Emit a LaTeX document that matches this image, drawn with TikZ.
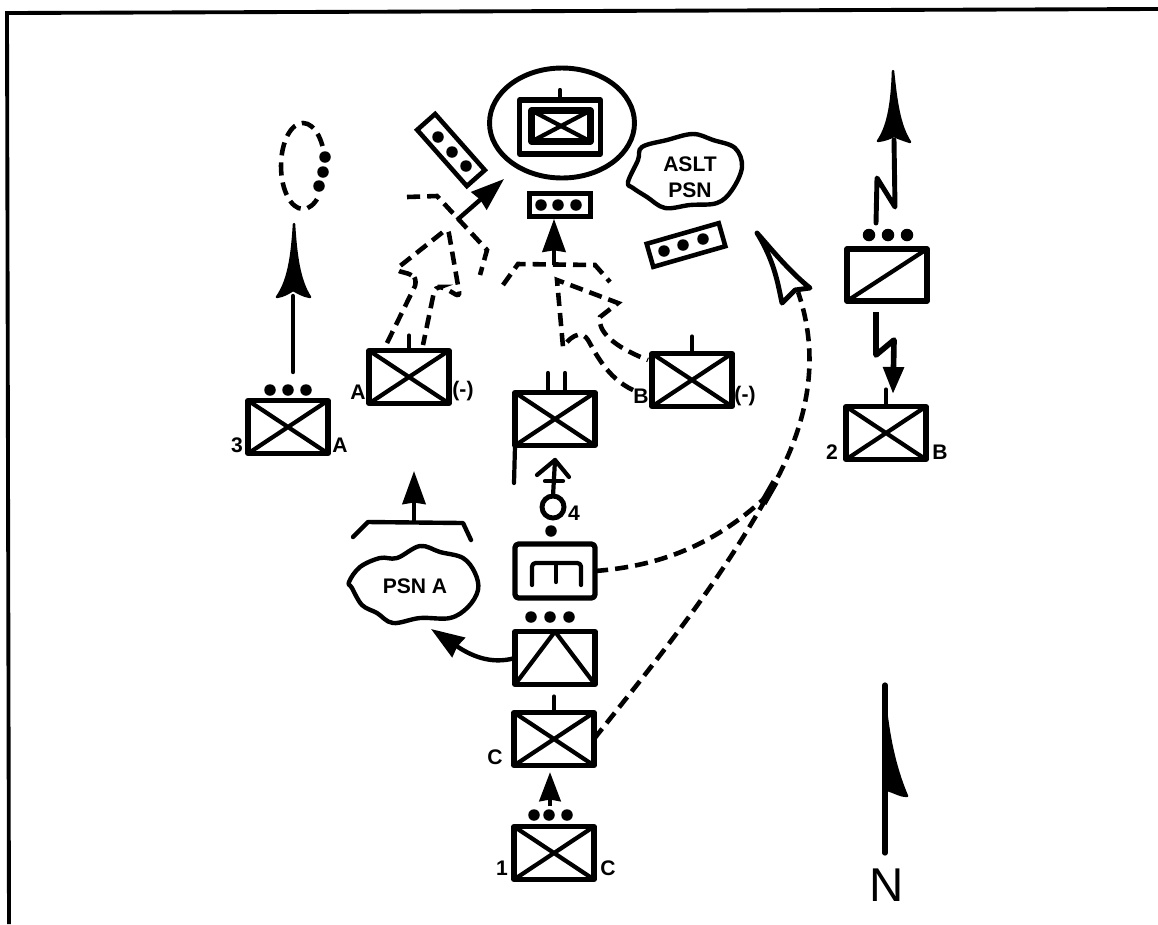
\documentclass[tikz,border=0pt]{standalone}
\usepackage{fontspec}
\setmainfont{Liberation Sans}
\usetikzlibrary{positioning,shapes.geometric,arrows.meta,calc}
\tikzstyle{unit} = [rectangle, draw=black, line width=3pt, line join=round, minimum width=1.6cm, minimum height=1.06cm, inner sep=0pt, outer sep=0pt]
\tikzstyle{crossed} = [unit, path picture={\draw[line width=2.4pt] (path picture bounding box.north west) -- (path picture bounding box.south east) (path picture bounding box.north east) -- (path picture bounding box.south west);}]
\tikzstyle{slashed} = [unit, path picture={\draw[line width=2.4pt] (path picture bounding box.south west) -- (path picture bounding box.north east);}]
\tikzstyle{peaked} = [unit, path picture={\draw[line width=2.4pt] (path picture bounding box.south west) -- (path picture bounding box.north) -- (path picture bounding box.south east);}]
\tikzstyle{trainbox} = [rectangle, draw=black, line width=2.6pt, minimum width=1.5cm, minimum height=0.48cm, inner sep=0pt]
\tikzstyle{pip} = [circle, fill=black, minimum size=0.23cm, inner sep=0pt]
\tikzstyle{tag} = [font=\bfseries\fontsize{12}{14}\selectfont, inner sep=0pt, align=center]
\tikzstyle{solidline} = [line width=2.5pt, line join=round, line cap=round]
\tikzstyle{thinline} = [line width=2.4pt, line join=round, line cap=round]
\tikzstyle{dashline} = [line width=2.6pt, dash pattern=on 7.5pt off 4pt]
\tikzstyle{arrow} = [line width=2.5pt, -{Stealth[length=0.66cm, width=0.46cm, inset=0.03cm]}]
\tikzstyle{head} = [fill=black, draw=black, line width=1.4pt, line join=round]
\begin{document}
\begin{tikzpicture}[x=0.02cm, y=-0.02cm]
    \useasboundingbox (0,0) rectangle (1158,924);
    % frame
    \coordinate (frame-sw) at (9,924);
    \coordinate (frame-nw) at (7,13);
    \coordinate (frame-ne) at (1158,9);
    \draw[line width=2.2pt] (frame-sw) -- (frame-nw) -- (frame-ne);

    % command post
    \node (cp-ring) [ellipse, draw=black, line width=2.8pt, minimum width=2.9cm, minimum height=2.2cm, inner sep=0pt, outer sep=0pt] at (562,123) {};
    \node (cp-outer) [unit, minimum width=1.62cm, minimum height=1.08cm] at (560,127) {};
    \node (cp-inner) [crossed, line width=3.6pt, minimum width=1.18cm, minimum height=0.62cm] at (561,126) {};
    \coordinate[above=0.2cm of cp-outer.north] (cp-mast);
    \draw[thinline] (cp-outer.north) -- (cp-mast);
    \node (cp-train) [trainbox, minimum width=1.22cm, minimum height=0.46cm] at (560,205) {};
    \node (cp-pip-1) [pip] at (541,205) {};
    \node (cp-pip-2) [pip] at (558,205) {};
    \node (cp-pip-3) [pip] at (576,205) {};

    % tilted boxes
    \node (left-train) [trainbox, rotate=-48.5] at (451,150) {};
    \node (left-pip-1) [pip] at (438,137) {};
    \node (left-pip-2) [pip] at (452,152) {};
    \node (left-pip-3) [pip] at (466,166) {};
    \node (right-train) [trainbox, rotate=16] at (686,245) {};
    \node (right-pip-1) [pip] at (664,251) {};
    \node (right-pip-2) [pip] at (683,245) {};
    \node (right-pip-3) [pip] at (703,239) {};

    % assault position
    \draw[solidline] plot[smooth cycle, tension=0.6] coordinates {(628,182) (638,160) (642,147) (667,140) (693,134) (713,140) (735,148) (742,167) (732,190) (717,203) (690,205) (665,208) (647,197) (633,188)};
    \node (aslt-psn) [tag] at (690,177) {ASLT\\[1pt]PSN};

    % company A
    \node (co-a) [crossed] at (409,377) {};
    \coordinate[above=0.3cm of co-a.north] (co-a-mast);
    \draw[thinline] (co-a.north) -- (co-a-mast);
    \node (co-a-name) [tag] at (358,392) {A};
    \node (co-a-minus) [tag] at (463,391) {(-)};
    \coordinate (obj-a-west) at (407,197);
    \coordinate (obj-a-bend) at (437,196);
    \coordinate (obj-a-knee) at (487,250);
    \coordinate (obj-a-east) at (480,275);
    \draw[dashline] (obj-a-west) -- (obj-a-bend) -- (obj-a-knee) -- (obj-a-east);
    \coordinate (obj-a-mid) at (457,220);
    \coordinate (obj-a-tip) at (504,179);
    \draw[arrow] (obj-a-mid) -- (obj-a-tip);
    \draw[dashline, rounded corners=3pt] (387,343) -- (417,282) -- (413,275) -- (395,270) -- (448,228) -- (460,297) -- (443,287) -- (435,287) -- (423,345);

    % company B
    \node (co-b) [crossed] at (692,380) {};
    \coordinate[above=0.34cm of co-b.north] (co-b-mast);
    \draw[thinline] (co-b.north) -- (co-b-mast);
    \node (co-b-name) [tag] at (641,396) {B};
    \node (co-b-minus) [tag] at (745,396) {(-)};
    \coordinate (obj-b-west) at (503,285);
    \coordinate (obj-b-left) at (518,264);
    \coordinate (obj-b-right) at (595,265);
    \coordinate (obj-b-east) at (610,282);
    \draw[dashline] (obj-b-west) -- (obj-b-left) -- (obj-b-right) -- (obj-b-east);
    \coordinate (obj-b-mid) at (554,265);
    \draw[arrow] (obj-b-mid) -- (cp-train.south -| obj-b-mid);
    \draw[dashline] (633,390) .. controls (607,378) and (595,352) .. (588,340) .. controls (583,332) and (574,332) .. (563,347) -- (557,280) -- (618,303) -- (600,317) .. controls (597,335) and (622,350) .. (648,360);

    % company with support
    \node (co-mid) [crossed] at (555,419) {};
    \coordinate (co-mid-mast-1) at (548,373);
    \coordinate (co-mid-mast-2) at (565,373);
    \draw[thinline] (548,392) -- (co-mid-mast-1);
    \draw[thinline] (565,392) -- (co-mid-mast-2);
    \coordinate (co-mid-staff) at (514,483);
    \draw[thinline] (co-mid.south west) -- (co-mid-staff);

    % unit 3 A
    \node (bn-3a) [crossed] at (288,427) {};
    \node (bn-3a-pip-1) [pip] at (270,390) {};
    \node (bn-3a-pip-2) [pip] at (288,390) {};
    \node (bn-3a-pip-3) [pip] at (306,390) {};
    \node (bn-3a-num) [tag] at (237,445) {3};
    \node (bn-3a-name) [tag] at (340,445) {A};
    \coordinate (bn-3a-tail) at (293,372);
    \coordinate (bn-3a-neck) at (293,296);
    \draw[solidline] (bn-3a-tail) -- (bn-3a-neck);
    \fill[head] (294,224) .. controls (292,255) and (289,280) .. (277,297) .. controls (284,296) and (290,292) .. (293,290) .. controls (297,292) and (303,296) .. (310,297) .. controls (299,280) and (296,255) .. (294,224) -- cycle;
    \node (goal-ring) [ellipse, draw=black, dashline, minimum width=0.88cm, minimum height=1.72cm, inner sep=0pt] at (303,166) {};
    \node[fill=white, minimum width=0.3cm, minimum height=0.9cm, inner sep=0pt] (goal-gap) at (325,172) {};
    \node (goal-pip-1) [pip] at (325,157) {};
    \node (goal-pip-2) [pip] at (323,172) {};
    \node (goal-pip-3) [pip] at (319,186) {};

    % engineer box
    \node (eng) [unit, rounded corners=2pt, minimum height=1.08cm] at (555,571) {};
    \node (eng-pip) [pip] at (551,531) {};
    \coordinate (eng-left-foot) at (532,585);
    \coordinate (eng-left-top) at (532,563);
    \coordinate (eng-right-top) at (581,563);
    \coordinate (eng-right-foot) at (581,585);
    \coordinate (eng-mid-top) at (556,563);
    \coordinate (eng-mid-foot) at (556,582);
    \draw[thinline, rounded corners=2pt] (eng-left-foot) -- (eng-left-top) -- (eng-right-top) -- (eng-right-foot);
    \draw[thinline] (eng-mid-top) -- (eng-mid-foot);

    % ring and open arrow
    \node (ring-4) [circle, draw=black, line width=2.8pt, minimum size=0.44cm, inner sep=0pt, outer sep=0pt] at (553,507) {};
    \node (ring-4-num) [tag] at (574,513) {4};
    \coordinate (ring-tip) at (555,460);
    \coordinate (ring-wing-l) at (537,475);
    \coordinate (ring-wing-r) at (569,477);
    \coordinate (ring-bar-l) at (545,481);
    \coordinate (ring-bar-r) at (563,481);
    \draw[thinline] (ring-4.north) -- (ring-tip);
    \draw[thinline] (ring-wing-l) -- (ring-tip) -- (ring-wing-r);
    \draw[thinline] (ring-bar-l) -- (ring-bar-r);

    % position A
    \draw[solidline] plot[smooth cycle, tension=0.6] coordinates {(349,582) (360,567) (380,558) (397,558) (420,546) (440,552) (463,558) (475,573) (478,590) (468,607) (450,618) (420,618) (393,623) (377,613) (362,605) (352,588)};
    \node (psn-a) [tag] at (415,586) {PSN A};
    \coordinate (bar-w) at (353,537);
    \coordinate (bar-l) at (368,522);
    \coordinate (bar-m) at (414,522);
    \coordinate (bar-r) at (463,523);
    \coordinate (bar-e) at (471,540);
    \coordinate (bar-tip) at (414,471);
    \draw[solidline] (bar-w) -- (bar-l) -- (bar-r) -- (bar-e);
    \draw[arrow] (bar-m) -- (bar-tip);

    % peaked unit
    \node (peak) [peaked] at (555,658) {};
    \node (peak-pip-1) [pip] at (531,617) {};
    \node (peak-pip-2) [pip] at (550,617) {};
    \node (peak-pip-3) [pip] at (569,617) {};
    \coordinate (psn-a-tip) at (431,629);
    \draw[arrow] (peak.west) .. controls (490,665) and (470,655) .. (psn-a-tip);

    % company C
    \node (co-c) [crossed] at (554,739) {};
    \coordinate[above=0.32cm of co-c.north] (co-c-mast);
    \draw[thinline] (co-c.north) -- (co-c-mast);
    \node (co-c-name) [tag] at (495,757) {C};

    % unit 1 C
    \node (bn-1c) [crossed] at (554,853) {};
    \node (bn-1c-pip-1) [pip] at (534,815) {};
    \node (bn-1c-pip-2) [pip] at (549,815) {};
    \node (bn-1c-pip-3) [pip] at (567,815) {};
    \node (bn-1c-num) [tag] at (502,868) {1};
    \node (bn-1c-name) [tag] at (608,868) {C};
    \coordinate (bn-1c-tail) at (550,806);
    \coordinate (bn-1c-tip) at (550,772);
    \draw[line width=2.8pt, -{Stealth[length=0.58cm, width=0.42cm, inset=0.03cm]}] (bn-1c-tail) -- (bn-1c-tip);

    % routes to the assault position
    \coordinate (join) at (768,495);
    \coordinate (route-neck) at (798,292);
    \draw[dashline] (eng.east) .. controls (660,566) and (715,545) .. (join);
    \draw[dashline] (co-c.east) .. controls (650,668) and (715,590) .. (join);
    \draw[line width=4.4pt] (763,503) -- (775,482);
    \draw[dashline] (join) .. controls (800,440) and (825,370) .. (route-neck);
    \coordinate (route-tip) at (757,233);
    \coordinate (route-wing-l) at (782,303);
    \coordinate (route-wing-r) at (810,288);
    \draw[fill=white, line width=2.8pt, line join=round] (route-tip) .. controls (775,262) and (778,285) .. (route-wing-l) -- (795,290) -- (route-wing-r) .. controls (790,272) and (772,250) .. (route-tip) -- cycle;

    % unit 2 relay and company
    \node (relay) [slashed, minimum height=1.04cm] at (887,275) {};
    \node (relay-pip-1) [pip, minimum size=0.25cm] at (869,235) {};
    \node (relay-pip-2) [pip, minimum size=0.25cm] at (888,235) {};
    \node (relay-pip-3) [pip, minimum size=0.25cm] at (907,235) {};
    \coordinate (up-tail) at (876,223);
    \coordinate (up-left) at (877,178);
    \coordinate (up-right) at (895,207);
    \coordinate (up-neck) at (894,140);
    \draw[solidline, line width=2.8pt] (up-tail) -- (up-left) -- (up-right) -- (up-neck);
    \fill[head] (893,71) .. controls (892,100) and (889,125) .. (878,141) .. controls (885,140) and (890,138) .. (894,136) .. controls (898,138) and (904,140) .. (910,142) .. controls (899,125) and (896,100) .. (893,71) -- cycle;
    \node (bn-2b) [crossed] at (886,433) {};
    \coordinate[above=0.34cm of bn-2b.north] (bn-2b-mast);
    \draw[thinline] (bn-2b.north) -- (bn-2b-mast);
    \node (bn-2b-num) [tag] at (832,452) {2};
    \node (bn-2b-name) [tag] at (940,452) {B};
    \coordinate (down-tail) at (876,312);
    \coordinate (down-left) at (876,355);
    \coordinate (down-right) at (894,340);
    \coordinate (down-tip) at (893,394);
    \draw[line width=3.2pt, line join=round, -{Stealth[length=0.54cm, width=0.4cm, inset=0pt]}] (down-tail) -- (down-left) -- (down-right) -- (down-tip);

    % north arrow
    \node (north) [font=\fontsize{27}{30}\selectfont, inner sep=0pt] at (887,885) {N};
    \coordinate (north-tail) at (885,853);
    \coordinate (north-tip) at (885,685);
    \draw[solidline, line width=3pt] (north-tail) -- (north-tip);
    \fill[head] (885,700) .. controls (889,745) and (898,775) .. (907,796) .. controls (900,796) and (895,792) .. (887,790) -- cycle;
\end{tikzpicture}
\end{document}
